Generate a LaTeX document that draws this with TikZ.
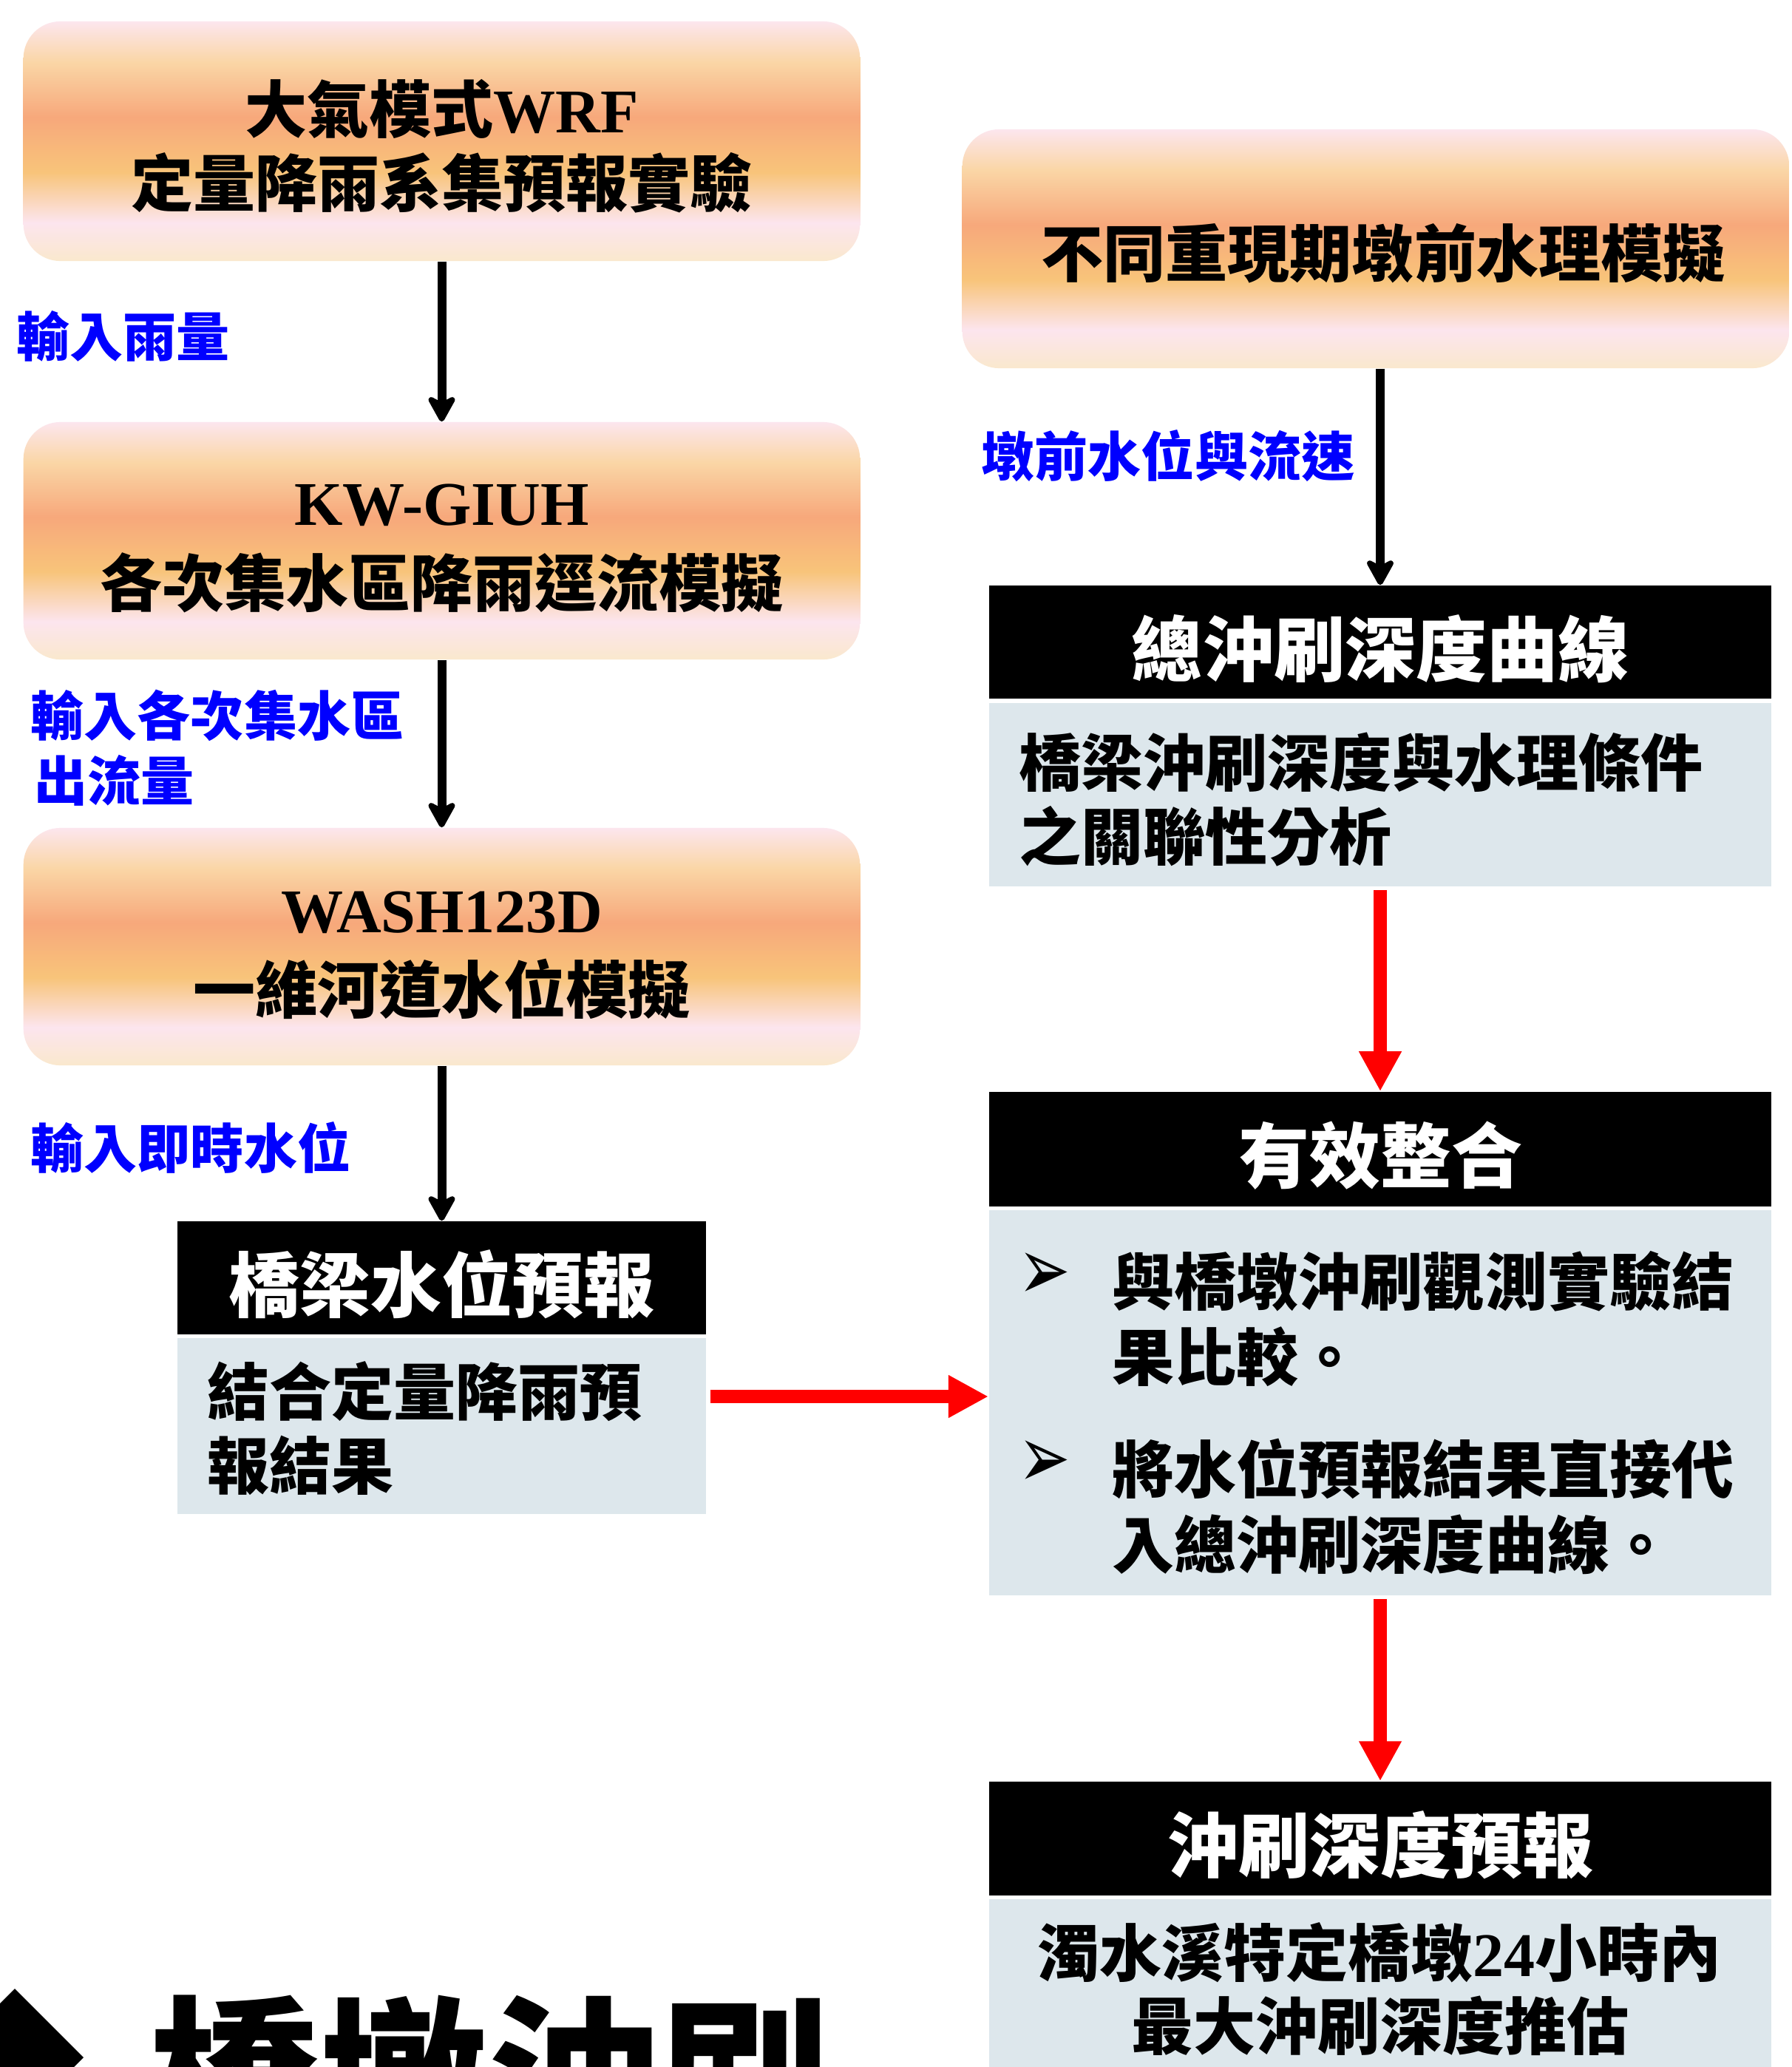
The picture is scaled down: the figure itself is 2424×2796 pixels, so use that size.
\documentclass[tikz,border=0pt]{standalone}
\usepackage{fontspec}
\usepackage{graphicx}
\setmainfont{Liberation Serif}
\newfontfamily\cjk{Noto Sans CJK TC}
\newfontfamily\lat{Liberation Serif}
\newfontfamily\djv{DejaVu Sans}
\usetikzlibrary{arrows.meta,calc}
\definecolor{gPinkTop}{RGB}{252,230,238}
\definecolor{gPeach}{RGB}{250,214,166}
\definecolor{gSalmon}{RGB}{247,168,123}
\definecolor{gOrange}{RGB}{248,196,122}
\definecolor{gPink}{RGB}{252,229,238}
\definecolor{gCream}{RGB}{250,232,205}
\definecolor{bodyblue}{RGB}{221,231,236}
\definecolor{labelblue}{RGB}{0,0,255}
\definecolor{arrred}{RGB}{255,0,0}
\pgfdeclareverticalshading{boxgrad}{100bp}{color(0bp)=(gCream); color(25bp)=(gCream); color(33bp)=(gPink); color(43.5bp)=(gOrange); color(55bp)=(gSalmon); color(66.5bp)=(gPeach); color(75bp)=(gPinkTop); color(100bp)=(gPinkTop)}
\tikzset{
  gbox/.style={rectangle, rounded corners=0.5cm, shade, shading=boxgrad, inner sep=0pt, draw=none},
  hdr/.style={rectangle, fill=black, inner sep=0pt, draw=none},
  bodybox/.style={rectangle, fill=bodyblue, inner sep=0pt, draw=none},
  tx/.style={inner sep=0pt, font=\cjk\bfseries\fontsize{23.9pt}{28pt}\selectfont},
  th/.style={inner sep=0pt, text=white, font=\cjk\bfseries\fontsize{27.3pt}{32pt}\selectfont},
  tl/.style={inner sep=0pt, anchor=west, text=labelblue, font=\cjk\bfseries\fontsize{20.5pt}{24pt}\selectfont},
  bul/.style={inner sep=0pt, font=\djv\fontsize{20pt}{24pt}\selectfont},
  blkarr/.style={line width=0.12cm, -{Stealth[length=0.42cm, width=0.46cm, inset=0.12cm, round]}},
  redarr/.style={line width=0.18cm, color=arrred, -{Triangle[length=0.54cm, width=0.54cm]}}
}
\begin{document}
\begin{tikzpicture}[x=0.01cm, y=-0.01cm]
\path[use as bounding box, fill=white] (0,0) rectangle (2424,2796);

% left column gradient boxes
\node[gbox, minimum width=11.31cm, minimum height=3.24cm] (A) at (597.5,191) {};
\node[gbox, minimum width=11.31cm, minimum height=3.21cm] (B) at (597.5,731.5) {};
\node[gbox, minimum width=11.31cm, minimum height=3.21cm] (C) at (597.5,1280.5) {};
\node[tx] (a1) at (597.5,147) {大氣模式{\lat WRF}};
\node[tx] (a2) at (597.5,247) {定量降雨系集預報實驗};
\node[tx] (b1) at (597.5,683) {{\lat KW-GIUH}};
\node[tx] (b2) at (597.5,788) {各次集水區降雨逕流模擬};
\node[tx] (c1) at (597.5,1234) {{\lat WASH123D}};
\node[tx] (c2) at (597.5,1338) {一維河道水位模擬};

% bridge water level forecast
\node[hdr, minimum width=7.15cm, minimum height=1.53cm] (Dh) at (597.5,1728.5) {};
\node[bodybox, minimum width=7.15cm, minimum height=2.38cm] (Db) at (597.5,1929) {};
\node[th] (dt) at (597.5,1737) {橋梁水位預報};
\node[tx, anchor=west] (d1) at (280,1882) {結合定量降雨預};
\node[tx, anchor=west] (d2) at (280,1982) {報結果};

% right column
\node[gbox, minimum width=11.18cm, minimum height=3.23cm] (E) at (1861,336.5) {};
\node[tx] (e1) at (1871,343) {不同重現期墩前水理模擬};

\node[hdr, minimum width=10.58cm, minimum height=1.53cm] (Fh) at (1867,868.5) {};
\node[bodybox, minimum width=10.58cm, minimum height=2.48cm] (Fb) at (1867,1075) {};
\node[th] (ft) at (1867,878) {總沖刷深度曲線};
\node[tx, anchor=west] (f1) at (1378,1031) {橋梁沖刷深度與水理條件};
\node[tx, anchor=west] (f2) at (1378,1131) {之關聯性分析};

\node[hdr, minimum width=10.58cm, minimum height=1.55cm] (Gh) at (1867,1554.5) {};
\node[bodybox, minimum width=10.58cm, minimum height=5.21cm] (Gb) at (1867,1897.5) {};
\node[th] (gt) at (1867,1563) {有效整合};
\node[bul] (gb1) at (1413,1727) {\scalebox{1.2}[1.7]{➢}};
\node[tx, anchor=west] (g1) at (1504,1733) {與橋墩沖刷觀測實驗結};
\node[tx, anchor=west] (g2) at (1504,1835) {果比較。};
\node[bul] (gb2) at (1413,1981) {\scalebox{1.2}[1.7]{➢}};
\node[tx, anchor=west] (g3) at (1504,1987) {將水位預報結果直接代};
\node[tx, anchor=west] (g4) at (1504,2089) {入總沖刷深度曲線。};

\node[hdr, minimum width=10.58cm, minimum height=1.54cm] (Hh) at (1867,2487) {};
\node[bodybox, minimum width=10.58cm, minimum height=2.61cm] (Hb) at (1867,2699.5) {};
\node[th] (ht) at (1867,2496) {沖刷深度預報};
\node[tx] (h1) at (1866,2641) {濁水溪特定橋墩{\lat 24}小時內};
\node[tx] (h2) at (1867,2740) {最大沖刷深度推估};

% blue labels
\node[tl] (l1) at (22,455) {輸入雨量};
\node[tl] (l2) at (41,968) {輸入各次集水區};
\node[tl] (l3) at (46,1056) {出流量};
\node[tl] (l4) at (41,1552) {輸入即時水位};
\node[tl] (l5) at (1327,617) {墩前水位與流速};

% big clipped title at bottom left
\fill[black] (20,2690) -- (113,2783) -- (20,2876) -- (-73,2783) -- cycle;
\node[inner sep=0pt, anchor=north west, font=\cjk\bfseries\fontsize{65.4pt}{70pt}\selectfont] (big) at (201,2698) {橋墩沖刷};

% connectors
\draw[blkarr] (A.south) -- (B.north);
\draw[blkarr] (B.south) -- (C.north);
\draw[blkarr] (C.south) -- (Dh.north);
\draw[blkarr] (E.south -| Fh.north) -- (Fh.north);
\draw[redarr, shorten <=0.04cm] (Fb.south) -- (Gh.north);
\draw[redarr, shorten <=0.04cm] (Gb.south) -- (Hh.north);
\draw[redarr, shorten <=0.05cm] (Db.east |- 0,1889) -- (Gb.west |- 0,1889);
\end{tikzpicture}
\end{document}
